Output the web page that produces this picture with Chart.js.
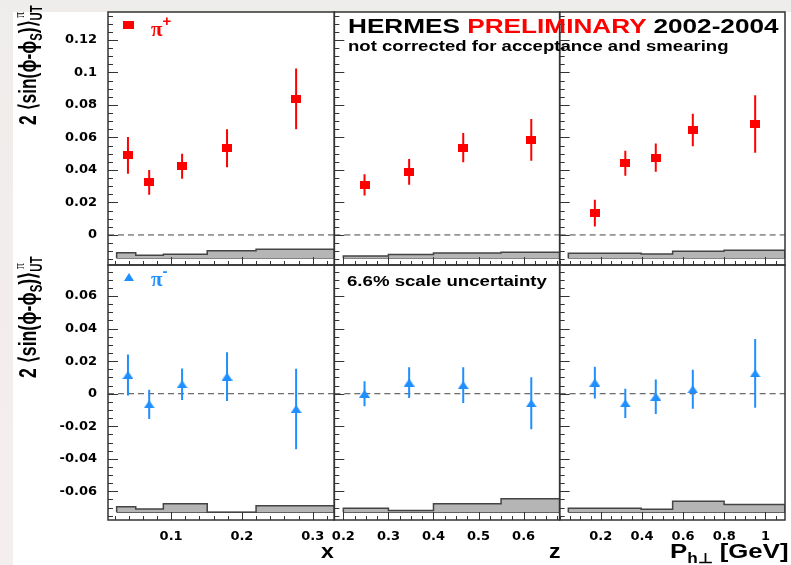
<!DOCTYPE html>
<html>
<head>
<meta charset="utf-8">
<script src="https://cdn.jsdelivr.net/npm/chart.js@4.4.1/dist/chart.umd.min.js"></script>
<style>
  html, body { margin: 0; padding: 0; }
  body { width: 791px; height: 565px; position: relative; overflow: hidden;
         background: linear-gradient(#efedeb, #f5eeee); font-family: "Liberation Sans", Arial, sans-serif; }
  #paper { position: absolute; left: 13px; top: 12px; right: 0; bottom: 0; background: #fff; }
  #c { position: absolute; left: 0; top: 0; }
  .t { position: absolute; white-space: nowrap; font-weight: bold; line-height: 1; transform-origin: 0 0; color: #000; }
  .red { color: #ff0000; }
  .pi { position: absolute; white-space: nowrap; line-height: 1; font-family: "Liberation Serif", serif; font-weight: bold; font-size: 21px; transform-origin: 0 0; }
  .pi sup { font-size: 15px; font-family: "Liberation Sans", Arial, sans-serif; font-weight: bold; position: relative; top: -2px; }
  .ytitle sub { font-size: 13px; vertical-align: -5px; }
  .ss { display: inline-block; position: relative; font-size: 13px; vertical-align: -5px; }
  .ss .sp { position: absolute; left: 3px; top: -15px; font-family: "Liberation Serif", serif; font-weight: normal; }
  .xt sub { font-size: 14px; vertical-align: -5px; }
</style>
</head>
<body>
<div id="paper"></div>
<canvas id="c" width="791" height="565"></canvas>

<div class="t" id="title" style="left:348px;top:15.2px;font-size:21px">HERMES <span class="red">PRELIMINARY</span> 2002-2004</div>
<div class="t" id="sub" style="left:348px;top:37.8px;font-size:15px">not corrected for acceptance and smearing</div>
<div class="t" id="scale" style="left:347px;top:273px;font-size:15px">6.6% scale uncertainty</div>

<div class="t ytitle" id="ytop" style="left:16px;top:125px;font-size:20px">2 ⟨sin(ϕ-ϕ<sub>S</sub>)⟩<span class="ss"><span class="sp">π</span>UT</span></div>
<div class="t ytitle" id="ybot" style="left:16px;top:378px;font-size:20px">2 ⟨sin(ϕ-ϕ<sub>S</sub>)⟩<span class="ss"><span class="sp">π</span>UT</span></div>

<div class="t xt" id="tx" style="top:540px;font-size:21px">x</div>
<div class="t xt" id="tz" style="top:540px;font-size:21px">z</div>
<div class="t xt" id="tp" style="top:540px;font-size:21px">P<sub>h⊥</sub> [GeV]</div>

<div style="position:absolute;left:123px;top:21px;width:11px;height:8px;background:#ff0000"></div>
<div class="pi red" id="lp" style="left:151px;top:15px">π<sup>+</sup></div>
<div style="position:absolute;left:124px;top:273px;width:0;height:0;border-left:5.5px solid transparent;border-right:5.5px solid transparent;border-bottom:8px solid #1f8fff"></div>
<div class="pi" id="lm" style="left:151px;top:265px;color:#1f8fff">π<sup>-</sup></div>

<script>
// bin centres
const xBins = [0.039, 0.069, 0.1155, 0.179, 0.2766];
const zBins = [0.247, 0.346, 0.466, 0.617];
const ptBins = [0.171, 0.319, 0.467, 0.647, 0.950];

// pi+ asymmetries and stat. errors
const piPlusX = [0.049, 0.0324, 0.0423, 0.0533, 0.0837];
const piPlusXErr = [0.0113, 0.0076, 0.0077, 0.0117, 0.0187];
const piPlusZ = [0.0308, 0.0388, 0.0537, 0.0585];
const piPlusZErr = [0.0066, 0.0079, 0.009, 0.0129];
const piPlusPt = [0.0134, 0.0441, 0.0476, 0.0646, 0.0683];
const piPlusPtErr = [0.0082, 0.0077, 0.0087, 0.010, 0.0177];

// pi- asymmetries and stat. errors
const piMinusX = [0.0115, -0.0065, 0.0058, 0.0105, -0.0094];
const piMinusXErr = [0.0126, 0.009, 0.0097, 0.015, 0.0247];
const piMinusZ = [0.0, 0.0068, 0.0053, -0.0059];
const piMinusZErr = [0.0077, 0.0095, 0.011, 0.016];
const piMinusPt = [0.0068, -0.0059, -0.0018, 0.0027, 0.0125];
const piMinusPtErr = [0.0098, 0.009, 0.0106, 0.012, 0.0211];

// systematic bands: bin edges and top of each bin
const xSysEdges = [0.023, 0.050, 0.089, 0.151, 0.220, 0.3306];
const zSysEdges = [0.2, 0.3, 0.4, 0.55, 0.68];
const ptSysEdges = [0.042, 0.396, 0.549, 0.799, 1.095];
const piPlusXSys = [-0.0109, -0.0125, -0.0119, -0.0097, -0.0088];
const piPlusZSys = [-0.0129, -0.0121, -0.0111, -0.0107];
const piPlusPtSys = [-0.0113, -0.0117, -0.0100, -0.0094];
const piMinusXSys = [-0.0694, -0.0708, -0.0676, -0.0729, -0.0688];
const piMinusZSys = [-0.0704, -0.0718, -0.0676, -0.0645];
const piMinusPtSys = [-0.0704, -0.0710, -0.0661, -0.0680];
const sysBase = [-0.0143, -0.0729]; // top row, bottom row

// axis ranges and labelled ticks
const xRange = [0.0108, 0.3306];
const zRange = [0.18, 0.68];
const ptRange = [0, 1.095];
const yTopRange = [-0.0185, 0.1372];
const yBotRange = [-0.0776, 0.0791];
const xTicks = [0.1, 0.2, 0.3];
const zTicks = [0.2, 0.3, 0.4, 0.5, 0.6];
const ptTicks = [0.2, 0.4, 0.6, 0.8, 1];
const yTopTicks = [0, 0.02, 0.04, 0.06, 0.08, 0.1, 0.12];
const yBotTicks = [-0.06, -0.04, -0.02, 0, 0.02, 0.04, 0.06];

const RED = '#ff0000', BLUE = '#1f8fff';

function marker(shape, color, w, h) {
  const c = document.createElement('canvas');
  c.width = w; c.height = h;
  const g = c.getContext('2d');
  g.fillStyle = color;
  if (shape === 'rect') g.fillRect(0, 0, w, h);
  else { g.beginPath(); g.moveTo(w / 2, 0); g.lineTo(w, h); g.lineTo(0, h); g.closePath(); g.fill(); }
  return c;
}
const sq = marker('rect', RED, 10, 8);
const tri = marker('tri', BLUE, 11, 8);

function panel(xid, yid, bins, vals, errs, range, edges, tops, base, color, mk) {
  const n = tops.length;
  const band = [{ x: edges[0], y: base }]
    .concat(tops.map((v, i) => ({ x: edges[i], y: v })))
    .concat([{ x: edges[n], y: tops[n - 1] }, { x: edges[n], y: base }]);
  const bars = [];
  bins.forEach((x, i) => {
    bars.push({ x, y: vals[i] - errs[i] }, { x, y: vals[i] + errs[i] }, { x, y: null });
  });
  const common = { type: 'line', xAxisID: xid, yAxisID: yid, pointRadius: 0, tension: 0 };
  return [
    { ...common, data: bins.map((x, i) => ({ x, y: vals[i] })), showLine: false,
      pointStyle: mk, pointRadius: 5, order: 0 },
    { ...common, data: bars, borderColor: color, borderWidth: 2, spanGaps: false, order: 1 },
    { ...common, data: band, stepped: true, borderColor: '#444', borderWidth: 1.5,
      fill: { value: base }, backgroundColor: '#b5b5b5', order: 2 },
    { ...common, data: [{ x: edges[0], y: base }, { x: edges[n], y: base }],
      borderColor: '#444', borderWidth: 1.2, order: 2 },
    { ...common, data: [{ x: range[0], y: 0 }, { x: range[1], y: 0 }],
      borderColor: '#444', borderWidth: 1, borderDash: [6, 4], order: 3 }
  ];
}

const datasets = [].concat(
  panel('xX', 'yTop', xBins, piPlusX, piPlusXErr, xRange, xSysEdges, piPlusXSys, sysBase[0], RED, sq),
  panel('xZ', 'yTop', zBins, piPlusZ, piPlusZErr, zRange, zSysEdges, piPlusZSys, sysBase[0], RED, sq),
  panel('xP', 'yTop', ptBins, piPlusPt, piPlusPtErr, ptRange, ptSysEdges, piPlusPtSys, sysBase[0], RED, sq),
  panel('xX', 'yBot', xBins, piMinusX, piMinusXErr, xRange, xSysEdges, piMinusXSys, sysBase[1], BLUE, tri),
  panel('xZ', 'yBot', zBins, piMinusZ, piMinusZErr, zRange, zSysEdges, piMinusZSys, sysBase[1], BLUE, tri),
  panel('xP', 'yBot', ptBins, piMinusPt, piMinusPtErr, ptRange, ptSysEdges, piMinusPtSys, sysBase[1], BLUE, tri)
);

function axis(range, ticks, pos, weight, size) {
  return {
    type: 'linear', position: pos, stack: pos === 'left' ? 'rows' : 'cols', stackWeight: weight,
    min: range[0], max: range[1],
    grid: { display: false, drawTicks: false }, border: { display: false },
    afterBuildTicks: s => { s.ticks = ticks.map(v => ({ value: v })); },
    afterFit: s => {
      if (pos === 'left') s.width = size; else s.height = size;
      // no extra room for edge labels, the frame must sit exactly where the reference has it
      s.paddingLeft = s.paddingRight = s.paddingTop = s.paddingBottom = 0;
    },
    ticks: {
      autoSkip: false, maxRotation: 0, padding: pos === 'left' ? 11 : 9, color: '#000',
      font: { family: 'DejaVu Sans', weight: 'bold', size: 13 },
      callback: v => String(+v.toFixed(3))
    }
  };
}

const minorStep = { xX: 0.02, xZ: 0.025, xP: 0.05, yTop: 0.005, yBot: 0.005 };
const majorTicks = { xX: xTicks, xZ: zTicks, xP: ptTicks, yTop: yTopTicks, yBot: yBotTicks };
const panels = [['xX', 'yTop'], ['xZ', 'yTop'], ['xP', 'yTop'], ['xX', 'yBot'], ['xZ', 'yBot'], ['xP', 'yBot']];

// ROOT style frames with inward ticks
const rootAxes = {
  id: 'rootAxes',
  afterDatasetsDraw(chart) {
    const ctx = chart.ctx;
    ctx.save();
    ctx.strokeStyle = '#333';
    ctx.lineWidth = 1;
    panels.forEach(([xid, yid]) => {
      const xs = chart.scales[xid], ys = chart.scales[yid];
      const l = xs.left, b = ys.bottom;
      const isMajor = (id, v) => majorTicks[id].some(m => Math.abs(m - v) < 1e-6);
      ctx.beginPath();
      let st = minorStep[yid];
      for (let k = Math.ceil(ys.min / st - 1e-6); k * st <= ys.max + 1e-9; k++) {
        const v = k * st, py = Math.round(ys.getPixelForValue(v)) + 0.5;
        ctx.moveTo(l, py); ctx.lineTo(l + (isMajor(yid, v) ? 10 : 5), py);
      }
      st = minorStep[xid];
      for (let k = Math.ceil(xs.min / st - 1e-6); k * st <= xs.max + 1e-9; k++) {
        const v = k * st, px = Math.round(xs.getPixelForValue(v)) + 0.5;
        ctx.moveTo(px, b); ctx.lineTo(px, b - (isMajor(xid, v) ? 8 : 4));
      }
      ctx.stroke();
    });
    ctx.lineWidth = 1.5;
    panels.forEach(([xid, yid]) => {
      const xs = chart.scales[xid], ys = chart.scales[yid];
      ctx.strokeRect(xs.left, ys.top, xs.right - xs.left, ys.bottom - ys.top);
    });
    ctx.restore();
  }
};

new Chart(document.getElementById('c'), {
  type: 'line',
  data: { datasets },
  options: {
    responsive: false, animation: false, devicePixelRatio: 1,
    layout: { padding: { top: 12, right: 4, left: 0, bottom: 0 } },
    plugins: { legend: { display: false }, tooltip: { enabled: false } },
    scales: {
      xX: axis(xRange, xTicks, 'bottom', 227, 45),
      xZ: axis(zRange, zTicks, 'bottom', 226, 45),
      xP: axis(ptRange, ptTicks, 'bottom', 226, 45),
      yBot: axis(yBotRange, yBotTicks, 'left', 255, 108),
      yTop: axis(yTopRange, yTopTicks, 'left', 253, 108)
    }
  },
  plugins: [rootAxes]
});

// stretch the overlay texts to the widths measured on the reference
function fit(id, w, sy, rot) {
  const el = document.getElementById(id);
  const k = w / el.offsetWidth;
  el.style.transform = (rot ? 'rotate(-90deg) ' : '') + 'scale(' + k + ',' + (sy || 1) + ')';
}
fit('title', 430);
fit('sub', 381);
fit('scale', 200);
fit('ytop', 120, 1.2, true);
fit('ybot', 122, 1.2, true);
function rightAt(id, right, k) {
  const el = document.getElementById(id);
  el.style.left = (right - el.offsetWidth * k) + 'px';
  el.style.transform = 'scale(' + k + ',1)';
}
rightAt('tx', 334, 1.1);
rightAt('tz', 561, 1.1);
fit('tp', 118);
document.getElementById('tp').style.left = '670px';
</script>
</body>
</html>
